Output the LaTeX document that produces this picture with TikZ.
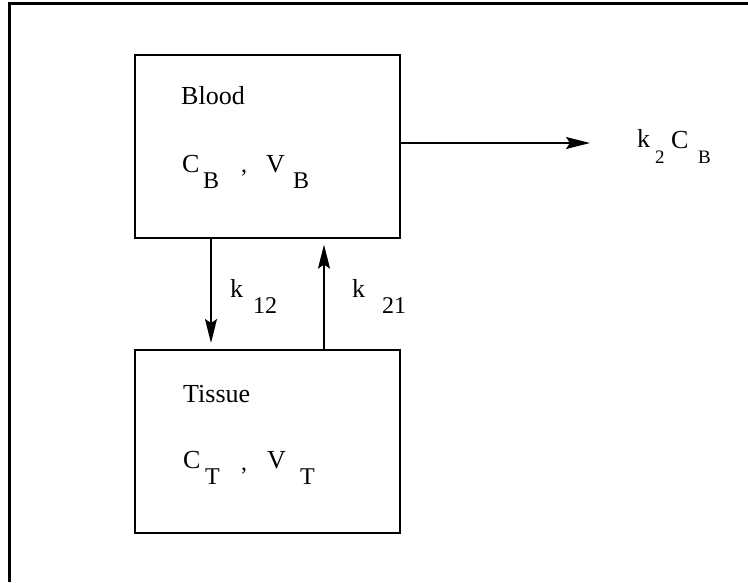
\documentclass[tikz,border=0pt]{standalone}
\usepackage{fontspec}
\setmainfont{Liberation Serif}
\usetikzlibrary{arrows.meta}
\begin{document}
\begin{tikzpicture}[x=1pt,y=-1pt,
  comp/.style={draw=black,line width=1.6pt,minimum width=265pt,minimum height=183pt,inner sep=0pt,anchor=north west},
  lbl/.style={anchor=base west,inner sep=0pt,font=\fontsize{26}{28}\selectfont},
  sub/.style={anchor=base west,inner sep=0pt,font=\fontsize{24}{26}\selectfont},
  ssub/.style={anchor=base west,inner sep=0pt,font=\fontsize{19}{21}\selectfont},
  flow/.style={line width=1.6pt,-{Stealth[length=24pt,width=12pt,inset=4pt]}}]
\useasboundingbox (0,0) rectangle (748,582);
% frame (top and left edges only)
\draw[line width=3pt] (9.5,582) -- (9.5,3.2) -- (748,3.2);
% compartments
\node[comp] (blood) at (134,54) {};
\node[comp] (tissue) at (134,349) {};
% Blood texts
\node[lbl] (bname) at (181,104) {Blood};
\node[lbl] (bc) at (182,172) {C};
\node[sub] (bcs) at (203,188) {B};
\node[sub] (bcomma) at (241,172) {,};
\node[lbl] (bv) at (266,172) {V};
\node[sub] (bvs) at (293,188) {B};
% Tissue texts
\node[lbl] (tname) at (183,402) {Tissue};
\node[lbl] (tc) at (183,468) {C};
\node[sub] (tcs) at (205,484) {T};
\node[sub] (tcomma) at (241,470) {,};
\node[lbl] (tv) at (267,468) {V};
\node[sub] (tvs) at (300,484) {T};
% elimination
\coordinate (out) at (590,143);
\draw[flow] (blood.east |- out) -- (out);
\node[lbl] (ek) at (637,147) {k};
\node[ssub] (eks) at (655,163) {2};
\node[lbl] (ec) at (671,148) {C};
\node[ssub] (ecs) at (698,163) {B};
% exchange arrows
\draw[flow] ([xshift=77pt]blood.south west) -- ([xshift=77pt,yshift=6pt]tissue.north west);
\draw[flow] ([xshift=190pt]tissue.north west) -- ([xshift=190pt,yshift=-6pt]blood.south west);
\node[lbl] (k12) at (230,297) {k};
\node[sub] (k12s) at (253,313) {12};
\node[lbl] (k21) at (352,297) {k};
\node[sub] (k21s) at (382,313) {21};
\end{tikzpicture}
\end{document}
